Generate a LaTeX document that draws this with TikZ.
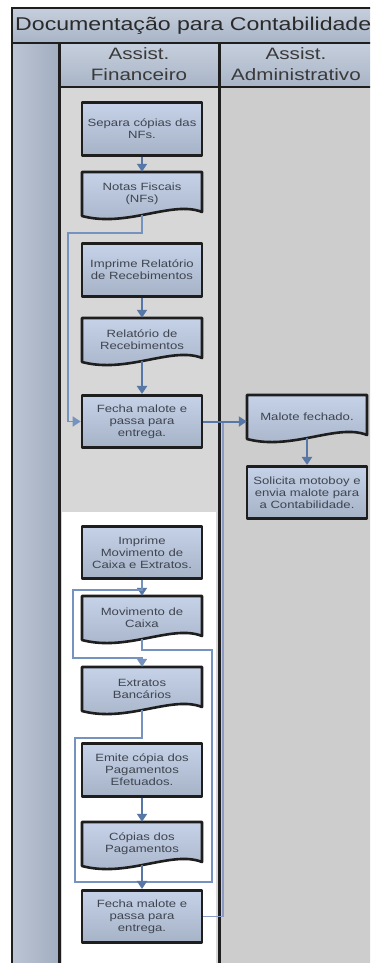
\documentclass[tikz,border=0pt]{standalone}
\usepackage{fontspec}
\setmainfont{Liberation Sans}[FakeStretch=1.25]
\usetikzlibrary{arrows.meta}
\definecolor{boxtop}{HTML}{C6D2E8}
\definecolor{boxbot}{HTML}{A6B2C6}
\definecolor{arrowc}{HTML}{5777A6}
\definecolor{routec}{HTML}{7693BF}
\definecolor{sidec}{HTML}{8C9AC6}
\definecolor{framec}{HTML}{1E1E1E}
\definecolor{boxtext}{HTML}{3E4550}
\definecolor{laneA}{HTML}{D7D7D7}
\definecolor{laneB}{HTML}{CDCDCD}
\definecolor{hdrtop}{HTML}{C6CFDC}
\definecolor{hdrbot}{HTML}{A8B4C7}
\definecolor{colL}{HTML}{BCC5D4}
\definecolor{colR}{HTML}{A2ADC0}
\definecolor{titletext}{HTML}{2A2A2A}
\definecolor{hdrtext}{HTML}{3A3A3A}
\tikzset{
  boxfont/.style={font=\fontsize{10.5}{12}\selectfont},
  procbox/.style={rectangle, draw=framec, line width=2.6pt, line join=round,
    top color=boxtop, bottom color=boxbot, minimum width=120pt,
    minimum height=52.5pt, inner sep=2pt, align=center, text=boxtext, boxfont},
  docbody/.style={draw=framec, line width=2.6pt, line join=round,
    top color=boxtop, bottom color=boxbot},
  doctext/.style={rectangle, minimum width=120pt, minimum height=43pt,
    inner sep=2pt, align=center, text=boxtext, boxfont},
  arr/.style={draw=arrowc, line width=2pt, -{Triangle[width=10pt,length=8pt]}},
  routearr/.style={draw=routec, line width=1.5pt, -{Triangle[width=10pt,length=8pt]}},
  route/.style={draw=routec, line width=1.5pt},
  sideroute/.style={draw=sidec, line width=1.5pt},
  frameline/.style={draw=framec, line width=2pt},
  lanerule/.style={draw=framec, line width=3pt},
  hdrlabel/.style={align=center, text=hdrtext, font=\fontsize{16.5}{20.5}\selectfont, inner sep=0pt},
}
\newcommand\docnode[4]{%
  \path[docbody] (#2-60,#3) -- (#2+60,#3) -- (#2+60,#3+40)
     .. controls (#2+30,#3+28) and (#2-15,#3+56) .. (#2-60,#3+44) -- cycle;
  \node[doctext] (#1) at (#2,#3+21.5) {#4};
}
\begin{document}
\begin{tikzpicture}[x=1pt,y=-1pt]
\useasboundingbox (0,0) rectangle (370,963);
\clip (0,0) rectangle (370,963);
\fill[white] (0,0) rectangle (370,963);
% lanes
\fill[laneA] (59,87) rectangle (219,963);
\fill[white] (62,512) rectangle (216,963);
\fill[laneB] (219,87) rectangle (380,963);
\shade[left color=colL, right color=colR] (12,43) rectangle (59,963);
\shade[top color=hdrtop, bottom color=hdrbot] (59,43) rectangle (219,87);
\shade[top color=hdrtop, bottom color=hdrbot] (219,43) rectangle (380,87);
\shade[top color=hdrtop, bottom color=hdrbot] (12,8) rectangle (380,43);
% frame
\draw[frameline] (380,8) -- (12,8) -- (12,963);
\draw[frameline] (12,43) -- (380,43);
\draw[frameline] (59,87) -- (380,87);
\draw[lanerule] (59,43) -- (59,963);
\draw[lanerule] (219,43) -- (219,963);
% titles
\node[anchor=west, inner sep=0pt, text=titletext, font=\fontsize{18.5}{20}\selectfont] (title) at (15,26) {Documentação para Contabilidade};
\node[hdrlabel] (h1) at (139,64) {Assist.\\Financeiro};
\node[hdrlabel] (h2) at (296,64) {Assist.\\Administrativo};
% upper flow
\node[procbox] (p1) at (142,129) {Separa cópias das\\NFs.};
\docnode{d1}{142}{172}{Notas Fiscais\\(NFs)}
\node[procbox] (p2) at (142,270) {Imprime Relatório\\de Recebimentos};
\docnode{d2}{142}{318}{Relatório de\\Recebimentos}
\node[procbox] (p3) at (142,421.5) {Fecha malote e\\passa para\\entrega.};
\docnode{d3}{307}{395}{Malote fechado.}
\node[procbox] (p4) at (307,492.5) {Solicita motoboy e\\envia malote para\\a Contabilidade.};
% lower flow
\node[procbox] (p5) at (142,552.5) {Imprime\\Movimento de\\Caixa e Extratos.};
\docnode{d4}{142}{596}{Movimento de\\Caixa}
\docnode{d5}{142}{667}{Extratos\\Bancários}
\node[procbox] (p6) at (142,770) {Emite cópia dos\\Pagamentos\\Efetuados.};
\docnode{d6}{142}{822}{Cópias dos\\Pagamentos}
\node[procbox] (p7) at (142,916.5) {Fecha malote e\\passa para\\entrega.};
% route points
\coordinate (r1) at (68,233);
\coordinate (j) at (223,421.5);
\coordinate (r2) at (73,590);
\coordinate (r3) at (73,658);
\coordinate (r4) at (212,650);
\coordinate (r6) at (75,738);
\coordinate (m) at (142,882);
% connectors
\draw[arr] (p1) -- (d1);
\draw[routearr] (d1.south) |- (r1) |- (p3.west);
\draw[arr] (p2) -- (d2);
\draw[arr] (d2) -- (p3);
\draw[sideroute] (p7.east) -| (j);
\draw[arr] (p3.east) -- (p3.east -| d3.west);
\draw[arr] (d3) -- (p4);
\draw[arr] (p5) -- (d4);
\draw[routearr] (p5.south) |- (r2) -- (r3) -| (d5.north);
\draw[route] (d4.south) |- (r4) |- (m);
\draw[route] (d5.south) |- (r6) |- (m);
\draw[arr] (p6) -- (d6);
\draw[arr] (d6) -- (p7);
\end{tikzpicture}
\end{document}
